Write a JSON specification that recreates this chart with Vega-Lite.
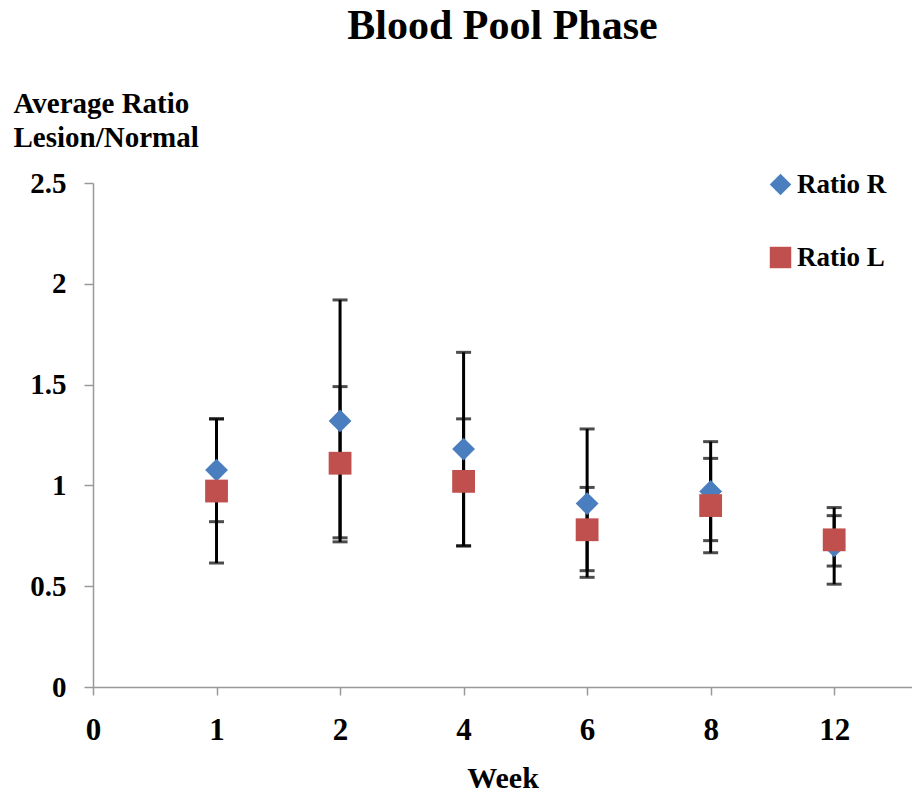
{
  "$schema": "https://vega.github.io/schema/vega-lite/v6.json",
  "autosize": "none",
  "width": 819,
  "height": 504,
  "padding": {"left": 93, "top": 183, "right": 0, "bottom": 113},
  "background": "white",
  "title": {
    "text": "Blood Pool Phase",
    "font": "Liberation Serif",
    "fontSize": 42,
    "fontWeight": "bold",
    "color": "black",
    "anchor": "middle",
    "offset": 41
  },
  "config": {
    "view": {"stroke": null},
    "axis": {"grid": false}
  },
  "data": {
    "values": [
      {"week": "1", "series": "Ratio R", "value": 1.076, "lower": 0.82, "upper": 1.33},
      {"week": "1", "series": "Ratio L", "value": 0.972, "lower": 0.615, "upper": 1.33},
      {"week": "2", "series": "Ratio R", "value": 1.32, "lower": 0.74, "upper": 1.49},
      {"week": "2", "series": "Ratio L", "value": 1.11, "lower": 0.72, "upper": 1.92},
      {"week": "4", "series": "Ratio R", "value": 1.18, "lower": 0.70, "upper": 1.33},
      {"week": "4", "series": "Ratio L", "value": 1.02, "lower": 0.70, "upper": 1.66},
      {"week": "6", "series": "Ratio R", "value": 0.91, "lower": 0.577, "upper": 0.99},
      {"week": "6", "series": "Ratio L", "value": 0.78, "lower": 0.544, "upper": 1.28},
      {"week": "8", "series": "Ratio R", "value": 0.97, "lower": 0.726, "upper": 1.134},
      {"week": "8", "series": "Ratio L", "value": 0.90, "lower": 0.666, "upper": 1.217},
      {"week": "12", "series": "Ratio R", "value": 0.70, "lower": 0.60, "upper": 0.85},
      {"week": "12", "series": "Ratio L", "value": 0.73, "lower": 0.51, "upper": 0.89}
    ]
  },
  "encoding": {
    "x": {
      "field": "week",
      "type": "ordinal",
      "sort": null,
      "scale": {"type": "point", "domain": ["0", "1", "2", "4", "6", "8", "12"], "padding": 0.315, "align": 0},
      "axis": {
        "title": "Week",
        "titleFont": "Liberation Serif",
        "titleFontSize": 30,
        "titleFontWeight": "bold",
        "titleColor": "black",
        "titlePadding": 18,
        "labelAngle": 0,
        "labelFont": "Liberation Serif",
        "labelFontSize": 31,
        "labelFontWeight": "bold",
        "labelColor": "black",
        "labelPadding": 20,
        "tickSize": 8,
        "tickColor": "#999999",
        "tickWidth": 1.5,
        "domainColor": "#999999",
        "domainWidth": 1.5
      }
    },
    "y": {
      "type": "quantitative",
      "scale": {"domain": [0, 2.5], "nice": false, "zero": true},
      "axis": {
        "title": ["Average Ratio", "Lesion/Normal"],
        "titleAngle": 0,
        "titleAlign": "left",
        "titleBaseline": "top",
        "titleX": -80,
        "titleY": -94,
        "titleFont": "Liberation Serif",
        "titleFontSize": 29,
        "titleFontWeight": "bold",
        "titleColor": "black",
        "titleLineHeight": 34,
        "values": [0, 0.5, 1, 1.5, 2, 2.5],
        "format": "~g",
        "labelFont": "Liberation Serif",
        "labelFontSize": 29,
        "labelFontWeight": "bold",
        "labelColor": "black",
        "labelPadding": 18,
        "tickSize": 9,
        "tickColor": "#999999",
        "tickWidth": 1.5,
        "domainColor": "#999999",
        "domainWidth": 1.5
      }
    }
  },
  "layer": [
    {
      "mark": {"type": "rule", "color": "black", "strokeWidth": 3},
      "encoding": {
        "y": {"field": "lower", "type": "quantitative"},
        "y2": {"field": "upper"},
        "detail": {"field": "series"}
      }
    },
    {
      "mark": {"type": "tick", "color": "black", "thickness": 3, "size": 15, "orient": "horizontal"},
      "encoding": {
        "y": {"field": "lower", "type": "quantitative"},
        "detail": {"field": "series"}
      }
    },
    {
      "mark": {"type": "tick", "color": "black", "thickness": 3, "size": 15, "orient": "horizontal"},
      "encoding": {
        "y": {"field": "upper", "type": "quantitative"},
        "detail": {"field": "series"}
      }
    },
    {
      "mark": {"type": "point", "filled": true, "opacity": 1, "size": 520},
      "encoding": {
        "y": {"field": "value", "type": "quantitative"},
        "color": {
          "field": "series",
          "type": "nominal",
          "scale": {"domain": ["Ratio R", "Ratio L"], "range": ["#4A7EBF", "#C0504D"]},
          "legend": {
            "title": null,
            "orient": "none",
            "legendX": 674,
            "legendY": -12,
            "padding": 0,
            "rowPadding": 44,
            "symbolSize": 460,
            "symbolOpacity": 1,
            "labelFont": "Liberation Serif",
            "labelFontSize": 27,
            "labelFontWeight": "bold",
            "labelColor": "black",
            "labelOffset": 3
          }
        },
        "shape": {
          "field": "series",
          "type": "nominal",
          "scale": {"domain": ["Ratio R", "Ratio L"], "range": ["diamond", "square"]}
        }
      }
    }
  ]
}
